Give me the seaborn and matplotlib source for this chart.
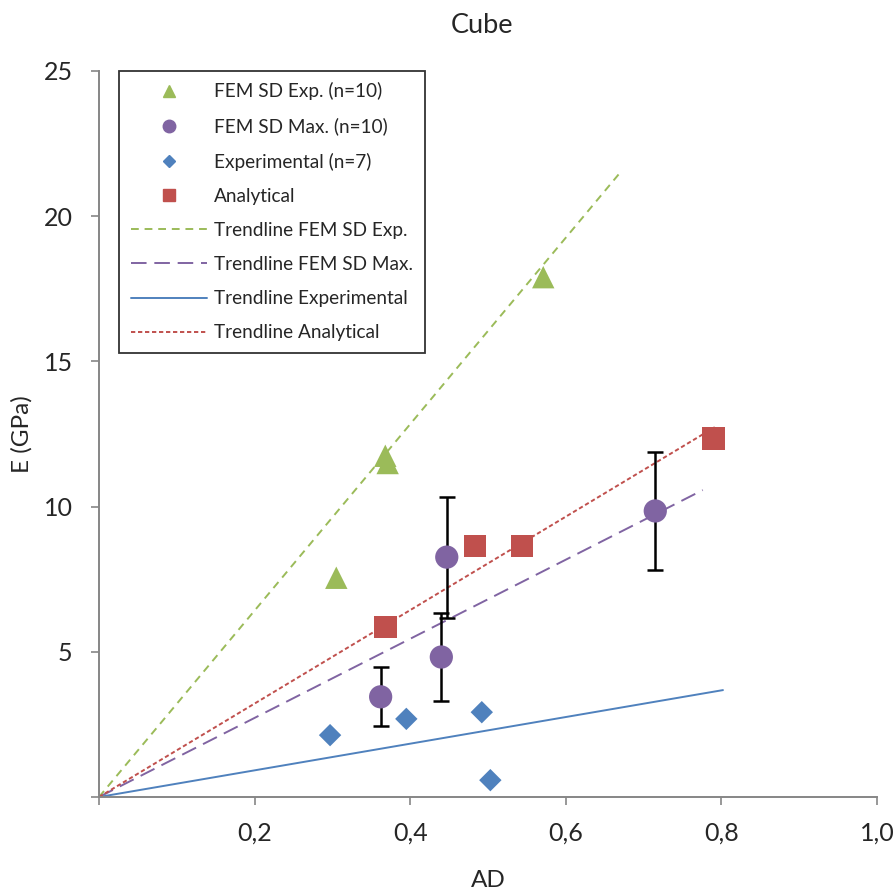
import matplotlib
matplotlib.use("Agg")
import matplotlib.pyplot as plt
import seaborn as sns
import numpy as np
from matplotlib.lines import Line2D

# dados
fem_exp_x = [0.305, 0.368, 0.371, 0.571]
fem_exp_y = [7.55, 11.75, 11.5, 17.9]

fem_max_x = [0.362, 0.447, 0.440, 0.715]
fem_max_y = [3.45, 8.26, 4.82, 9.85]
fem_max_err = [1.02, 2.08, 1.50, 2.02]

exp_x = [0.297, 0.395, 0.492, 0.503]
exp_y = [2.13, 2.69, 2.92, 0.58]

ana_x = [0.368, 0.483, 0.544, 0.790]
ana_y = [5.85, 8.64, 8.64, 12.34]

# linhas de tendencia (passando pela origem): inclinacao e x final
trend_names = ["Trendline FEM SD Exp.", "Trendline FEM SD Max.",
               "Trendline Experimental", "Trendline Analytical"]
trend_slope = [32.1, 13.62, 4.59, 16.09]
trend_xend = [0.670, 0.776, 0.802, 0.792]

x_ticks = [0, 0.2, 0.4, 0.6, 0.8, 1.0]
x_labels = ["", "0,2", "0,4", "0,6", "0,8", "1,0"]
y_ticks = [0, 5, 10, 15, 20, 25]
y_labels = ["", "5", "10", "15", "20", "25"]

verde = "#9BBB59"
roxo = "#8064A2"
azul = "#4F81BD"
vermelho = "#C0504D"
trend_cores = [verde, roxo, azul, vermelho]
trend_dash = [(4, 3), (8, 4), None, (2.2, 1.4)]

sns.set_style("white")
plt.rcParams["font.family"] = ["Lato", "DejaVu Sans"]

fig = plt.figure(figsize=(8.96, 8.94), dpi=100)
ax = fig.add_axes([0.1105, 0.1085, 0.8683, 0.8121])

# linhas de tendencia
for nome, a, xe, cor, ds in zip(trend_names, trend_slope, trend_xend, trend_cores, trend_dash):
    xs = np.array([0.0, xe])
    sns.lineplot(x=xs, y=a * xs, color=cor, lw=1.4, ax=ax)
    if ds is not None:
        ax.lines[-1].set_dashes(ds)

# barras de erro
ax.errorbar(fem_max_x, fem_max_y, yerr=fem_max_err, fmt="none", ecolor="black",
            elinewidth=1.8, capsize=6, capthick=1.8, zorder=3)

sns.scatterplot(x=fem_exp_x, y=fem_exp_y, marker="^", s=260, color=verde,
                edgecolor="none", ax=ax, zorder=4)
sns.scatterplot(x=fem_max_x, y=fem_max_y, marker="o", s=280, color=roxo,
                edgecolor="none", ax=ax, zorder=4)
sns.scatterplot(x=exp_x, y=exp_y, marker="D", s=130, color=azul,
                edgecolor="none", ax=ax, zorder=4)
sns.scatterplot(x=ana_x, y=ana_y, marker="s", s=260, color=vermelho,
                edgecolor="none", ax=ax, zorder=4)

ax.set_xlim(0, 1.0)
ax.set_ylim(0, 25)
ax.set_xticks(x_ticks)
ax.set_xticklabels(x_labels, fontsize=18)
ax.set_yticks(y_ticks)
ax.set_yticklabels(y_labels, fontsize=18)
ax.tick_params(axis="both", direction="out", length=6, width=1.2, color="#868686",
               bottom=True, left=True)
ax.tick_params(axis="x", pad=12)
ax.tick_params(axis="y", pad=13)
for s in ["top", "right"]:
    ax.spines[s].set_visible(False)
for s in ["left", "bottom"]:
    ax.spines[s].set_color("#868686")
    ax.spines[s].set_linewidth(1.4)

ax.set_xlabel("AD", fontsize=17.5, labelpad=18)
ax.set_ylabel("E (GPa)", fontsize=17.5, labelpad=8)
ax.set_title("Cube", fontsize=19.5, pad=27, x=0.492)

handles = [
    Line2D([], [], ls="none", marker="^", ms=9, color=verde, label="FEM SD Exp. (n=10)"),
    Line2D([], [], ls="none", marker="o", ms=9, color=roxo, label="FEM SD Max. (n=10)"),
    Line2D([], [], ls="none", marker="D", ms=6.5, color=azul, label="Experimental (n=7)"),
    Line2D([], [], ls="none", marker="s", ms=9, color=vermelho, label="Analytical"),
    Line2D([], [], color=verde, lw=1.4, dashes=(4, 3), label=trend_names[0]),
    Line2D([], [], color=roxo, lw=1.4, dashes=(8, 4), label=trend_names[1]),
    Line2D([], [], color=azul, lw=1.4, label=trend_names[2]),
    Line2D([], [], color=vermelho, lw=1.4, dashes=(2.2, 1.4), label=trend_names[3]),
]
leg = ax.legend(handles=handles, loc="upper left", bbox_to_anchor=(0.026, 1.0),
                fontsize=13.7, frameon=True, fancybox=False, edgecolor="black",
                handlelength=4.0, labelspacing=0.9, borderpad=0.6, handletextpad=0.4,
                borderaxespad=0)
leg.get_frame().set_linewidth(1.3)

fig.savefig("out.png", dpi=100)
